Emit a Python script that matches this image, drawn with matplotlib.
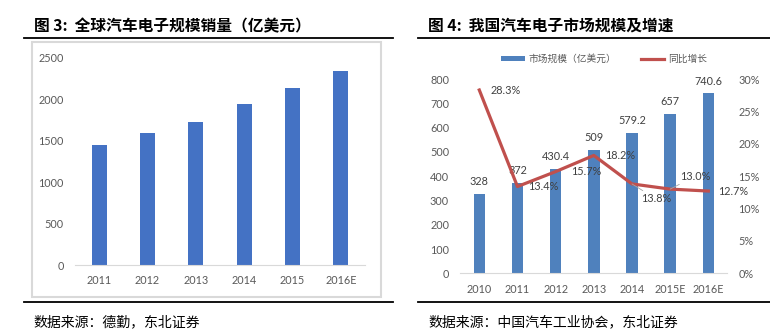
import matplotlib.pyplot as plt
from matplotlib.patches import Rectangle
from matplotlib.lines import Line2D
from matplotlib.ticker import FuncFormatter

plt.rcParams['font.family'] = ['Lato', 'Noto Sans CJK SC', 'DejaVu Sans']

# left chart: global auto electronics (100m USD)
years_l = ['2011', '2012', '2013', '2014', '2015', '2016E']
sales_l = [1450, 1595, 1730, 1940, 2140, 2345]

# right chart: China auto electronics market + yoy growth
years_r = ['2010', '2011', '2012', '2013', '2014', '2015E', '2016E']
market_r = [328, 372, 430.4, 509, 579.2, 657, 740.6]
growth_r = [28.3, 13.4, 15.7, 18.2, 13.8, 13.0, 12.7]
market_lbl = ['328', '372', '430.4', '509', '579.2', '657', '740.6']

BLUE_L = '#4472C4'
BLUE_R = '#4F81BD'
RED = '#C0504D'
TICK = '#595959'
GRID = '#D9D9D9'

W, H = 770, 336
fig = plt.figure(figsize=(W / 100, H / 100), dpi=100)

def fx(px):
    return px / W

def fy(py):
    return 1 - py / H

# frame lines / titles / sources
for x0, x1 in [(24, 393), (418, 770)]:
    for yy in (38, 302):
        fig.add_artist(Line2D([fx(x0), fx(x1)], [fy(yy), fy(yy)], color='black', lw=1.3))
fig.add_artist(Rectangle((fx(32), fy(297)), fx(349), 255 / H, fill=False,
                         edgecolor=GRID, lw=1.5))

cjk = ['Noto Sans CJK SC', 'DejaVu Sans']
fig.text(fx(34), fy(26), '图 3:  全球汽车电子规模销量（亿美元）', fontsize=11.3,
         fontweight='bold', family=cjk, va='center')
fig.text(fx(428), fy(26), '图 4:  我国汽车电子市场规模及增速', fontsize=11.3,
         fontweight='bold', family=cjk, va='center')
fig.text(fx(33), fy(322), '数据来源：德勤，东北证券', fontsize=10,
         family=cjk, va='center')
fig.text(fx(428), fy(322), '数据来源：中国汽车工业协会，东北证券', fontsize=10,
         family=cjk, va='center')

# ---- left chart
ax1 = fig.add_axes([fx(75), fy(265), fx(290), 207 / H])
ax1.bar(range(len(years_l)), sales_l, width=0.31, color=BLUE_L)
ax1.set_xlim(-0.5, len(years_l) - 0.5)
ax1.set_ylim(0, 2500)
ax1.set_yticks([0, 500, 1000, 1500, 2000, 2500])
ax1.set_xticks(range(len(years_l)))
ax1.set_xticklabels(years_l)
for s in ['top', 'left', 'right']:
    ax1.spines[s].set_visible(False)
ax1.spines['bottom'].set_color(GRID)
ax1.tick_params(length=0, colors=TICK, labelsize=7.8)
ax1.tick_params(axis='y', pad=8)
ax1.tick_params(axis='x', pad=7)

# ---- right chart
ax2 = fig.add_axes([fx(460.2), fy(273.3), fx(267.2), 194.3 / H])
x = range(len(years_r))
bars = ax2.bar(x, market_r, width=0.3, color=BLUE_R, label='市场规模（亿美元）')
ax2.set_xlim(-0.5, len(years_r) - 0.5)
ax2.set_ylim(0, 800)
ax2.set_yticks(range(0, 801, 100))
ax2.set_xticks(list(x))
ax2.set_xticklabels(years_r)
for s in ['top', 'left', 'right']:
    ax2.spines[s].set_visible(False)
ax2.spines['bottom'].set_color(GRID)
ax2.tick_params(length=0, colors=TICK, labelsize=7.8)
ax2.tick_params(axis='y', pad=8)
ax2.tick_params(axis='x', pad=8)
for i, v in enumerate(market_r):
    ax2.annotate(market_lbl[i], (i, v), xytext=(0, 12), textcoords='offset pixels',
                 ha='center', va='center', fontsize=7.8, color='#404040')

ax3 = ax2.twinx()
ax3.set_ylim(0, 30)
ax3.set_yticks(range(0, 31, 5))
ax3.yaxis.set_major_formatter(FuncFormatter(lambda v, p: f'{v:.0f}%'))
for s in ['top', 'left', 'right', 'bottom']:
    ax3.spines[s].set_visible(False)
ax3.tick_params(length=0, colors=TICK, labelsize=7.8, pad=8)
line, = ax3.plot(list(x), growth_r, color=RED, lw=2.3, label='同比增长')

offs = [(11, 0), (11, 0), (16, 0), (11, 0), (9, -15), (10, 13), (10, 0)]
for i, v in enumerate(growth_r):
    kw = {}
    if i in (4, 5):
        kw['arrowprops'] = dict(arrowstyle='-', color='#A6A6A6', lw=0.6,
                                shrinkA=0, shrinkB=0)
    ax3.annotate(f'{v:.1f}%', (i, v), xytext=offs[i], textcoords='offset pixels',
                 ha='left', va='center', fontsize=7.8, color='#404040', **kw)

fig.legend([bars, line], ['市场规模（亿美元）', '同比增长'], loc='center',
           bbox_to_anchor=(fx(604), fy(59)), ncol=2, frameon=False,
           labelcolor=TICK, handlelength=2.4, handleheight=0.4,
           columnspacing=2.5, handletextpad=0.4,
           prop={'family': cjk, 'size': 7})

fig.savefig('out.png', dpi=100)
